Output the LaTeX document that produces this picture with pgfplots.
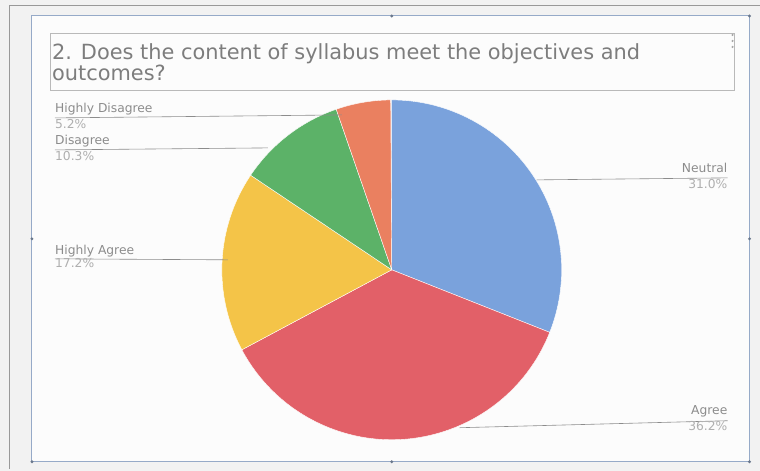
\documentclass[border=0pt]{standalone}
\usepackage{pgfplots}
\pgfplotsset{compat=1.18}
\usepackage{pgfplotstable}
\usepackage{fontspec}
\setmainfont{DejaVu Sans}
\definecolor{cNeu}{RGB}{122,162,220}
\definecolor{cAgr}{RGB}{226,96,104}
\definecolor{cHA}{RGB}{244,196,72}
\definecolor{cDis}{RGB}{92,178,104}
\definecolor{cHD}{RGB}{234,128,96}
\definecolor{txt}{RGB}{125,125,125}
\definecolor{lbl}{RGB}{140,140,140}
\definecolor{pct}{RGB}{175,175,175}
\definecolor{frameb}{RGB}{150,170,200}
\pgfplotstableread{
label value
Neutral 31.0
Agree 36.2
HighlyAgree 17.2
Disagree 10.3
HighlyDisagree 5.2
}\piedata
\begin{document}
\begin{tikzpicture}[x=1pt,y=1pt]
% background
\fill[white!95!black] (0,0) rectangle (760,471);
\draw[gray!80,line width=1pt] (10,2) -- (10,465) -- (760,465);
\fill[white!99!black] (32,9) rectangle (750,455);
\draw[frameb,line width=1pt] (32,9) rectangle (750,455);
\foreach \p in {(392,455),(750,232),(392,9),(32,232),(750,9),(32,9),(750,455)}
  \fill[frameb!70!black] \p circle (1.6pt);
% title box
\draw[gray!55,line width=0.8pt] (50,381) rectangle (735,438);
\foreach \yy in {436,430,424} \fill[gray!70] (733,\yy) circle (1.2pt);
\node[anchor=base west,text=txt,font=\fontsize{20.9}{24}\selectfont,inner sep=0pt] at (52,411) {2. Does the content of syllabus meet the objectives and};
\node[anchor=base west,text=txt,font=\fontsize{20.9}{24}\selectfont,inner sep=0pt] at (52,390) {outcomes?};
% angles
\xdef\acc{90}
\foreach \i/\n in {0/A,1/B,2/C,3/D,4/E}{
  \pgfplotstablegetelem{\i}{value}\of\piedata
  \pgfmathsetmacro{\nxt}{\acc-3.6*\pgfplotsretval}
  \expandafter\xdef\csname angS\n\endcsname{\acc}
  \expandafter\xdef\csname angE\n\endcsname{\nxt}
  \xdef\acc{\nxt}
}
\begin{axis}[at={(392pt,201pt)},anchor=center,scale only axis,
  width=340pt,height=340pt,xmin=-1,xmax=1,ymin=-1,ymax=1,hide axis]
\fill[cNeu,draw=white,line width=0.4pt] (axis cs:0,0) -- (axis cs:{cos(\angSA)},{sin(\angSA)}) arc[start angle=\angSA,end angle=\angEA,radius=170pt] -- cycle;
\fill[cAgr,draw=white,line width=0.4pt] (axis cs:0,0) -- (axis cs:{cos(\angSB)},{sin(\angSB)}) arc[start angle=\angSB,end angle=\angEB,radius=170pt] -- cycle;
\fill[cHA,draw=white,line width=0.4pt] (axis cs:0,0) -- (axis cs:{cos(\angSC)},{sin(\angSC)}) arc[start angle=\angSC,end angle=\angEC,radius=170pt] -- cycle;
\fill[cDis,draw=white,line width=0.4pt] (axis cs:0,0) -- (axis cs:{cos(\angSD)},{sin(\angSD)}) arc[start angle=\angSD,end angle=\angED,radius=170pt] -- cycle;
\fill[cHD,draw=white,line width=0.4pt] (axis cs:0,0) -- (axis cs:{cos(\angSE)},{sin(\angSE)}) arc[start angle=\angSE,end angle=\angEE,radius=170pt] -- cycle;
\end{axis}
% leader lines and labels
\begin{scope}[lbl,line width=0.6pt]
\draw (537,291) -- (728,293);
\draw (460,43) -- (728,50);
\draw (228,211) -- (55,212);
\draw (268,323) -- (55,321);
\draw (342,356) -- (55,353);
\end{scope}
\begin{scope}[every node/.style={font=\fontsize{12.3}{14}\selectfont,inner sep=0pt}]
\node[anchor=base east,text=lbl] at (728,298) {Neutral};
\node[anchor=base east,text=pct] at (728,282) {31.0\%};
\node[anchor=base east,text=lbl] at (728,56) {Agree};
\node[anchor=base east,text=pct] at (728,40) {36.2\%};
\node[anchor=base west,text=lbl] at (55,216) {Highly Agree};
\node[anchor=base west,text=pct] at (55,203) {17.2\%};
\node[anchor=base west,text=lbl] at (55,326) {Disagree};
\node[anchor=base west,text=pct] at (55,310) {10.3\%};
\node[anchor=base west,text=lbl] at (55,358) {Highly Disagree};
\node[anchor=base west,text=pct] at (55,342) {5.2\%};
\end{scope}
\end{tikzpicture}
\end{document}
